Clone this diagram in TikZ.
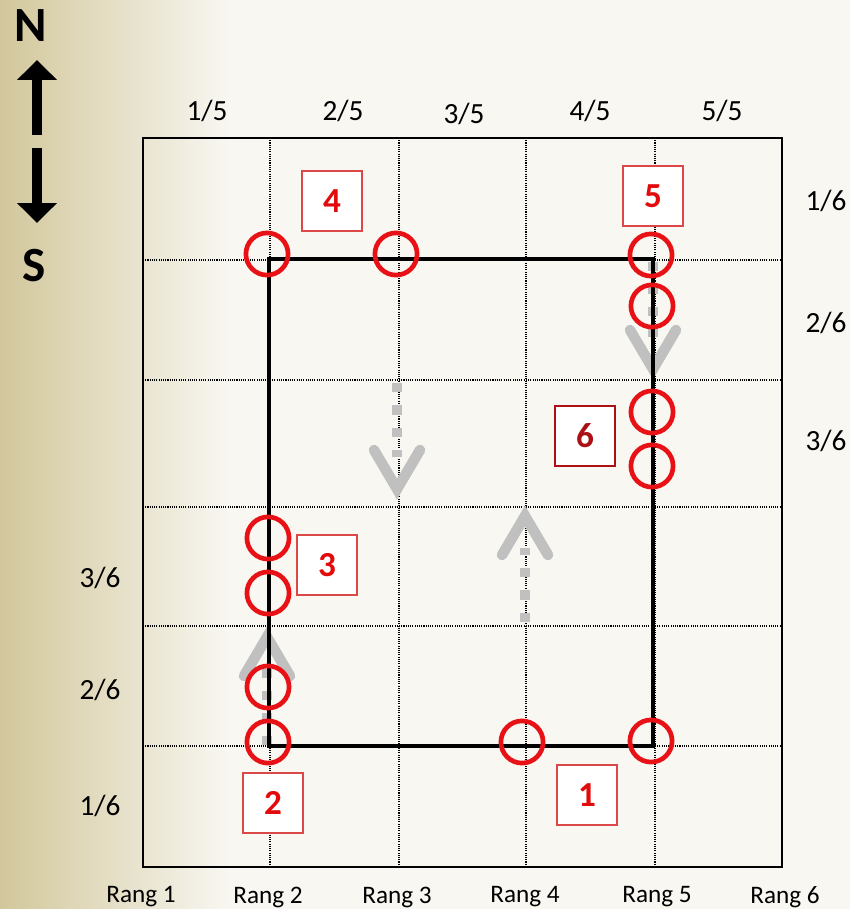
\documentclass[tikz,border=0pt]{standalone}
\usepackage{fontspec}
\setmainfont{Carlito}
\usetikzlibrary{arrows.meta,calc}
\definecolor{paper}{RGB}{248,247,242}
\definecolor{sand}{RGB}{210,199,155}
\definecolor{ring}{RGB}{232,18,22}
\definecolor{tagline}{RGB}{220,72,72}
\definecolor{tagtext}{RGB}{226,10,10}
\definecolor{tagdark}{RGB}{172,16,20}
\definecolor{flow}{RGB}{192,192,192}
\tikzset{
  gridline/.style={densely dotted, line width=0.9pt},
  frame/.style={line width=1.7pt},
  route/.style={line width=3.4pt},
  spot/.style={circle, draw=ring, line width=4pt, minimum size=36pt, inner sep=0pt},
  tag/.style={draw=tagline, fill=white, line width=1.2pt, minimum size=51pt, inner sep=0pt,
    text=tagtext, font=\fontsize{30}{32}\selectfont\bfseries},
  frac/.style={font=\fontsize{25}{27}\selectfont},
  rang/.style={font=\fontsize{21.5}{24}\selectfont},
  flowdash/.style={draw=flow, line width=8pt, dash pattern=on 8pt off 11pt},
  flowhead/.style={draw=flow, line width=9pt, line cap=round},
  compass/.style={-{Triangle[length=17pt, width=33pt]}, line width=8.5pt},
  pole/.style={font=\fontsize{42}{44}\selectfont\bfseries},
}

\begin{document}
\begin{tikzpicture}[x=0.03cm, y=-0.03cm]
  \useasboundingbox (0,0) rectangle (850,909);
  % background
  \fill[paper] (0,0) rectangle (850,909);
  \shade[left color=sand, right color=paper] (0,0) rectangle (230,909);
  % compass
  \node[pole] (north) at (31,26) {N};
  \node[pole] (south) at (34,266) {S};
  \coordinate (ntip) at (37,60);
  \coordinate (stip) at (37,223);
  \draw[compass] (37,135) -- (ntip);
  \draw[compass] (37,148) -- (stip);
  % field grid
  \foreach \gx in {270,399,526,655}
    \draw[gridline] (\gx,138) -- (\gx,867);
  \foreach \gy in {260,380,507,626,746}
    \draw[gridline] (143,\gy) -- (782,\gy);
  \draw[frame] (143,138) rectangle (782,867);
  % column and row labels
  \foreach \lx/\ly/\num in {207/111/1, 343/111/2, 464/114/3, 590/111/4, 722/111/5}
    \node[frac] (top\num) at (\lx,\ly) {\num/5};
  \foreach \ly/\num in {201/1, 323/2, 441/3}
    \node[frac] (right\num) at (826,\ly) {\num/6};
  \foreach \ly/\num in {806/1, 690/2, 578/3}
    \node[frac] (left\num) at (100,\ly) {\num/6};
  \foreach \lx [count=\i] in {141,268,397,525,657,785}
    \node[rang] (rang\i) at (\lx,897) {Rang \i};
  % walking direction
  \foreach \ax/\ys/\yt/\s in {397/383/489/-1, 525/622/516/1, 653/262/369/-1, 267/745/637/1} {
    \draw[flowdash] (\ax,\ys) -- (\ax,{\yt+\s*32});
    \draw[flowhead] ({\ax-23},{\yt+\s*39}) -- (\ax,\yt) -- ({\ax+23},{\yt+\s*39});
  }
  % route
  \coordinate (rnw) at (269,259);
  \coordinate (rse) at (653,746);
  \draw[route] (rnw) rectangle (rse);
  % sampling spots
  \foreach \cx/\cy [count=\i] in {267/254, 396/254, 651/255, 652/306, 652/412, 652/466,
      268/538, 268/593, 268/687, 268/742, 522/742, 651/741}
    \node[spot] (spot\i) at (\cx,\cy) {};
  % numbered stops
  \node[tag] (tag1) at (587,795) {1};
  \node[tag] (tag2) at (273,803) {2};
  \node[tag] (tag3) at (327,565) {3};
  \node[tag] (tag4) at (332,201) {4};
  \node[tag] (tag5) at (653,196) {5};
  \node[tag, draw=tagdark, text=tagdark] (tag6) at (585,436) {6};
\end{tikzpicture}
\end{document}
